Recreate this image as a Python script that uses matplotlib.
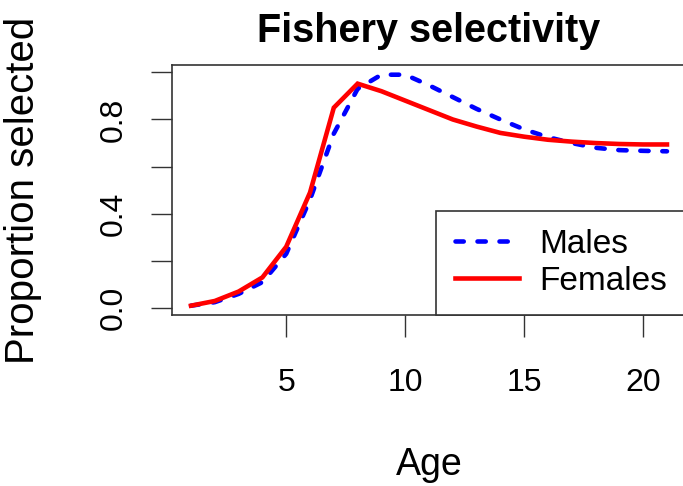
import numpy as np
import matplotlib.pyplot as plt
from matplotlib.ticker import FixedLocator, FixedFormatter

plt.rcParams['font.family'] = ['Liberation Sans', 'DejaVu Sans']

age = list(range(1, 22))
males = [0.01, 0.025, 0.06, 0.11, 0.23, 0.46, 0.74, 0.93, 0.99, 0.99, 0.945,
         0.895, 0.845, 0.80, 0.758, 0.725, 0.70, 0.68, 0.67, 0.667, 0.665]
females = [0.01, 0.03, 0.07, 0.13, 0.26, 0.49, 0.85, 0.952, 0.92, 0.88, 0.84,
           0.80, 0.77, 0.743, 0.727, 0.714, 0.706, 0.70, 0.696, 0.694, 0.694]

x_ticks = [5, 10, 15, 20]
y_ticks = [0.0, 0.2, 0.4, 0.6, 0.8, 1.0]
y_labels = ['0.0', '', '0.4', '', '0.8', '']

fig = plt.figure(figsize=(6.83, 4.86), dpi=100)
ax = fig.add_axes([0.2518, 0.352, 0.7526, 0.5133])

ax.plot(age, males, color='blue', lw=3.3, linestyle=(0, (1.8, 3.0)),
        dash_capstyle='round', label='Males')
ax.plot(age, females, color='red', lw=3.3, solid_joinstyle='miter', label='Females')

# R-style 4% padding
xr = max(age) - min(age)
ax.set_xlim(min(age) - 0.04 * xr, max(age) + 0.04 * xr)
lo, hi = min(min(males), min(females)), max(max(males), max(females))
ax.set_ylim(lo - 0.04 * (hi - lo), hi + 0.04 * (hi - lo))

ax.xaxis.set_major_locator(FixedLocator(x_ticks))
ax.yaxis.set_major_locator(FixedLocator(y_ticks))
ax.yaxis.set_major_formatter(FixedFormatter(y_labels))
ax.tick_params(axis='x', length=16, width=1, pad=22, labelsize=23, color='#333333')
ax.tick_params(axis='y', length=15, width=1, pad=16, labelsize=23, color='#333333')
for t in ax.get_yticklabels():
    t.set_rotation(90)
    t.set_va('center')
for s in ax.spines.values():
    s.set_color('#333333')
    s.set_linewidth(1.2)

ax.set_title('Fishery selectivity', fontsize=28.5, fontweight='bold', pad=17)
ax.set_xlabel('Age', fontsize=27)
ax.set_ylabel('Proportion selected', fontsize=29)
ax.xaxis.set_label_coords(0.5, -0.53)
ax.yaxis.set_label_coords(-0.252, 0.5)

leg = ax.legend(loc='lower right', bbox_to_anchor=(0.998, 0.0), fontsize=24,
                handlelength=1.92, handletextpad=0.6, labelspacing=0.17,
                borderpad=0.55, borderaxespad=0, fancybox=False, framealpha=1)
leg.get_frame().set_edgecolor('#333333')
leg.get_frame().set_linewidth(1.2)

fig.savefig('out.png', dpi=100)
